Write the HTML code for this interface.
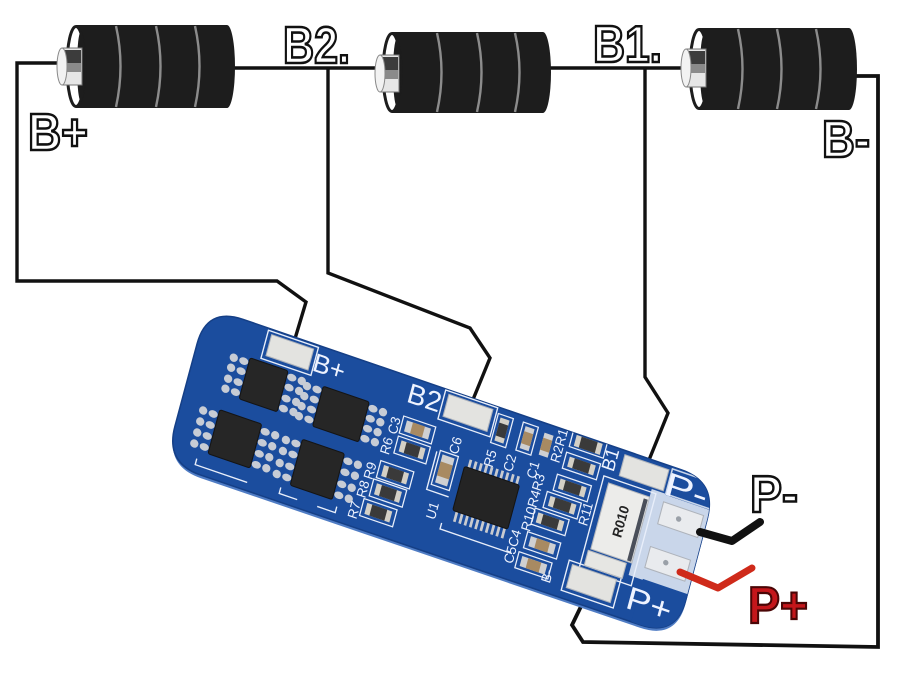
<!DOCTYPE html>
<html><head><meta charset="utf-8">
<style>
html,body{margin:0;padding:0;background:#fff;}
svg{display:block;}
.ol{font-family:"Liberation Sans",sans-serif;font-weight:bold;fill:#fff;stroke:#111;stroke-width:2.6;}
.sk{font-family:"Liberation Sans",sans-serif;fill:#eef3ff;}
</style></head>
<body>
<svg width="900" height="681" viewBox="0 0 900 681" xmlns="http://www.w3.org/2000/svg">
<defs>
<clipPath id="bc"><path d="M242.9,319.3 L681.1,469.7 Q717,482 707.3,518.7 L685.7,600.3 Q676,637 640,624.8 L201,475.2 Q165,463 174.9,426.3 L197.1,343.7 Q207,307 242.9,319.3 Z"/></clipPath>
</defs>
<rect width="900" height="681" fill="#fff"/>

<!-- wires -->
<g fill="none" stroke="#111" stroke-width="3.4" stroke-linejoin="miter">
<polyline points="60,63 17,63 17,281 277,281 306,302 294,342"/>
<polyline points="234,68 380,68"/>
<polyline points="328,68 328,273 470,328 490,358 472,402"/>
<polyline points="550,68 686,68"/>
<polyline points="645,68 645,377 668,413 649,460"/>
<polyline points="853,76 878,76 878,647 583,642 572,625 587,594" stroke-width="3.8"/>
</g>

<!-- battery 1 -->
<g>
<path d="M76,25 H227 A8,41.5 0 0 1 227,108 H76 Z" fill="#1d1d1d"/>
<g fill="none" stroke="#8c8c8c" stroke-width="2.4">
<path d="M116,26 Q125,66 116,107"/><path d="M156,26 Q165,66 156,107"/><path d="M195,26 Q204,66 195,107"/>
</g>
<ellipse cx="76" cy="66.5" rx="9" ry="40" fill="#fff" stroke="#1d1d1d" stroke-width="3"/>
<ellipse cx="81" cy="66.5" rx="4" ry="35" fill="#1d1d1d"/>
<rect x="62" y="48" width="20" height="37" fill="#e6e6e6" stroke="#777" stroke-width="1"/>
<rect x="65" y="50" width="16" height="13" fill="#3c3c3c"/>
<rect x="65" y="63" width="16" height="9" fill="#8a8a8a"/>
<ellipse cx="62" cy="66.5" rx="5" ry="18.5" fill="#f2f2f2" stroke="#888" stroke-width="1"/>
</g>

<!-- battery 2 -->
<g>
<path d="M392,32 H543 A8,40.5 0 0 1 543,113 H392 Z" fill="#1d1d1d"/>
<g fill="none" stroke="#8c8c8c" stroke-width="2.4">
<path d="M437,33 Q446,72 437,112"/><path d="M477,33 Q486,72 477,112"/><path d="M515,33 Q524,72 515,112"/>
</g>
<ellipse cx="392" cy="72.5" rx="9" ry="39" fill="#fff" stroke="#1d1d1d" stroke-width="3"/>
<ellipse cx="397" cy="72.5" rx="4" ry="34" fill="#1d1d1d"/>
<rect x="380" y="55" width="19" height="37" fill="#e6e6e6" stroke="#777" stroke-width="1"/>
<rect x="383" y="57" width="15" height="13" fill="#3c3c3c"/>
<rect x="383" y="70" width="15" height="9" fill="#8a8a8a"/>
<ellipse cx="380" cy="73.5" rx="5" ry="18.5" fill="#f2f2f2" stroke="#888" stroke-width="1"/>
</g>

<!-- battery 3 -->
<g>
<path d="M699,28 H849 A8,41 0 0 1 849,110 H699 Z" fill="#1d1d1d"/>
<g fill="none" stroke="#8c8c8c" stroke-width="2.4">
<path d="M738,29 Q747,69 738,109"/><path d="M777,29 Q786,69 777,109"/><path d="M816,29 Q825,69 816,109"/>
</g>
<ellipse cx="699" cy="69" rx="9" ry="39.5" fill="#fff" stroke="#1d1d1d" stroke-width="3"/>
<ellipse cx="704" cy="69" rx="4" ry="34" fill="#1d1d1d"/>
<rect x="686" y="49" width="20" height="38" fill="#e6e6e6" stroke="#777" stroke-width="1"/>
<rect x="689" y="51" width="16" height="13" fill="#3c3c3c"/>
<rect x="689" y="64" width="16" height="9" fill="#8a8a8a"/>
<ellipse cx="686" cy="68" rx="5" ry="19" fill="#f2f2f2" stroke="#888" stroke-width="1"/>
</g>

<!-- board -->
<path d="M242.9,322.3 L681.1,472.7 Q717,485 707.3,521.7 L685.7,603.3 Q676,640 640,627.8 L201,478.2 Q165,466 174.9,429.3 L197.1,346.7 Q207,310 242.9,322.3 Z" fill="#4f7cc4"/>
<path d="M242.9,319.3 L681.1,469.7 Q717,482 707.3,518.7 L685.7,600.3 Q676,637 640,624.8 L201,475.2 Q165,463 174.9,426.3 L197.1,343.7 Q207,307 242.9,319.3 Z" fill="#1b4d9e" stroke="#153f86" stroke-width="1.5"/>

<g clip-path="url(#bc)">
<g transform="matrix(1,0.343,-0.269,1,207,307)">
<!-- pale region at right end -->
<rect x="452" y="27" width="70" height="86" fill="#c9d6ea"/>
<rect x="466" y="0" width="56" height="28" fill="#1b4d9e"/>
<rect x="466" y="112" width="56" height="50" fill="#1b4d9e"/>
<rect x="466" y="2" width="50" height="25" fill="none" stroke="#c9d6ea" stroke-width="1.5"/>

<!-- silkscreen frames -->
<g fill="none" stroke="#e8eefa" stroke-width="1.3">
<rect x="62" y="2" width="50" height="28"/>
<rect x="239" y="1" width="52" height="29"/>
<rect x="405" y="30" width="52" height="92"/>
<rect x="394" y="118" width="52" height="30"/>
<polyline points="28,142 28,148 80,148"/>
<polyline points="112,142 112,148 130,148"/>
<polyline points="150,148 168,148 168,142"/>
<polyline points="246,60 246,98 268,98"/>
<polyline points="268,124 268,130 340,130"/>
</g>

<!-- pads -->
<g fill="#e3e3e0" stroke="#aeb3bb" stroke-width="1">
<rect x="66" y="5" width="42" height="21"/>
<rect x="243" y="4" width="44" height="22"/>
<rect x="419" y="4" width="44" height="21"/>
<rect x="398" y="121" width="44" height="23"/>
<rect x="466" y="35" width="40" height="22" fill="#e9ebee"/>
<rect x="465" y="80" width="40" height="21" fill="#e9ebee"/>
</g>
<circle cx="484" cy="46" r="2.6" fill="#9aa0a8"/>
<circle cx="483" cy="90" r="2.6" fill="#9aa0a8"/>

<!-- R010 shunt -->
<rect x="411" y="35" width="41" height="66" fill="#ececea" stroke="#b5b8bd" stroke-width="1"/>
<rect x="447" y="38" width="4" height="62" fill="#4a4f5a"/>
<rect x="409" y="103" width="38" height="15" fill="#e6e6e3" stroke="#b5b8bd" stroke-width="1"/>
<text transform="translate(436,82) rotate(-90)" font-family="Liberation Sans,sans-serif" font-size="13" font-weight="bold" fill="#222">R010</text>

<!-- MOSFET pins -->
<g fill="#c7ccd5">
<ellipse cx="47" cy="38" rx="4.5" ry="3.5"/><ellipse cx="47" cy="48" rx="4.5" ry="3.5"/><ellipse cx="47" cy="59" rx="4.5" ry="3.5"/><ellipse cx="47" cy="69" rx="4.5" ry="3.5"/>
<circle cx="37" cy="38" r="4"/><circle cx="37" cy="48" r="4"/><circle cx="37" cy="59" r="4"/><circle cx="37" cy="69" r="4"/>
<ellipse cx="95" cy="38" rx="4.5" ry="3.5"/><ellipse cx="95" cy="48" rx="4.5" ry="3.5"/><ellipse cx="95" cy="59" rx="4.5" ry="3.5"/><ellipse cx="95" cy="69" rx="4.5" ry="3.5"/>
<circle cx="105" cy="38" r="4"/><circle cx="105" cy="48" r="4"/><circle cx="105" cy="59" r="4"/><circle cx="105" cy="69" r="4"/>

<ellipse cx="32" cy="96" rx="4.5" ry="3.5"/><ellipse cx="32" cy="107" rx="4.5" ry="3.5"/><ellipse cx="32" cy="118" rx="4.5" ry="3.5"/><ellipse cx="32" cy="129" rx="4.5" ry="3.5"/>
<circle cx="22" cy="96" r="4"/><circle cx="22" cy="107" r="4"/><circle cx="22" cy="118" r="4"/><circle cx="22" cy="129" r="4"/>
<ellipse cx="84" cy="96" rx="4.5" ry="3.5"/><ellipse cx="84" cy="107" rx="4.5" ry="3.5"/><ellipse cx="84" cy="118" rx="4.5" ry="3.5"/><ellipse cx="84" cy="129" rx="4.5" ry="3.5"/>
<circle cx="94" cy="96" r="4"/><circle cx="94" cy="107" r="4"/><circle cx="94" cy="118" r="4"/><circle cx="94" cy="129" r="4"/>

<ellipse cx="121" cy="41" rx="4.5" ry="3.5"/><ellipse cx="121" cy="51" rx="4.5" ry="3.5"/><ellipse cx="121" cy="61" rx="4.5" ry="3.5"/><ellipse cx="121" cy="71" rx="4.5" ry="3.5"/>
<circle cx="111" cy="41" r="4"/><circle cx="111" cy="51" r="4"/><circle cx="111" cy="61" r="4"/><circle cx="111" cy="71" r="4"/>
<ellipse cx="177" cy="41" rx="4.5" ry="3.5"/><ellipse cx="177" cy="51" rx="4.5" ry="3.5"/><ellipse cx="177" cy="61" rx="4.5" ry="3.5"/><ellipse cx="177" cy="71" rx="4.5" ry="3.5"/>
<circle cx="187" cy="41" r="4"/><circle cx="187" cy="51" r="4"/><circle cx="187" cy="61" r="4"/><circle cx="187" cy="71" r="4"/>

<ellipse cx="115" cy="97" rx="4.5" ry="3.5"/><ellipse cx="115" cy="108" rx="4.5" ry="3.5"/><ellipse cx="115" cy="120" rx="4.5" ry="3.5"/><ellipse cx="115" cy="131" rx="4.5" ry="3.5"/>
<circle cx="105" cy="97" r="4"/><circle cx="105" cy="108" r="4"/><circle cx="105" cy="120" r="4"/><circle cx="105" cy="131" r="4"/>
<ellipse cx="167" cy="97" rx="4.5" ry="3.5"/><ellipse cx="167" cy="108" rx="4.5" ry="3.5"/><ellipse cx="167" cy="120" rx="4.5" ry="3.5"/><ellipse cx="167" cy="131" rx="4.5" ry="3.5"/>
<circle cx="177" cy="97" r="4"/><circle cx="177" cy="108" r="4"/><circle cx="177" cy="120" r="4"/><circle cx="177" cy="131" r="4"/>
</g>

<!-- MOSFET bodies -->
<g fill="#262626" stroke="#141414" stroke-width="1">
<rect x="52" y="33" width="38" height="41" rx="2"/>
<rect x="37" y="90" width="42" height="44" rx="2"/>
<rect x="126" y="36" width="46" height="40" rx="2"/>
<rect x="120" y="91" width="42" height="46" rx="2"/>
</g>

<!-- IC pins -->
<g fill="#c9cbcf">
<rect x="278" y="57" width="2.6" height="8"/><rect x="283.3" y="57" width="2.6" height="8"/><rect x="288.6" y="57" width="2.6" height="8"/><rect x="293.9" y="57" width="2.6" height="8"/><rect x="299.2" y="57" width="2.6" height="8"/><rect x="304.5" y="57" width="2.6" height="8"/><rect x="309.8" y="57" width="2.6" height="8"/><rect x="315.1" y="57" width="2.6" height="8"/><rect x="320.4" y="57" width="2.6" height="8"/><rect x="325.7" y="57" width="2.6" height="8"/>
<rect x="278" y="109" width="2.6" height="10"/><rect x="283.3" y="109" width="2.6" height="10"/><rect x="288.6" y="109" width="2.6" height="10"/><rect x="293.9" y="109" width="2.6" height="10"/><rect x="299.2" y="109" width="2.6" height="10"/><rect x="304.5" y="109" width="2.6" height="10"/><rect x="309.8" y="109" width="2.6" height="10"/><rect x="315.1" y="109" width="2.6" height="10"/><rect x="320.4" y="109" width="2.6" height="10"/><rect x="325.7" y="109" width="2.6" height="10"/>
</g>
<rect x="275" y="65" width="55" height="44" rx="2" fill="#242424" stroke="#141414" stroke-width="1"/>

<!-- SMD resistors (horizontal) -->
<g>
<g fill="none" stroke="#e8eefa" stroke-width="1.2">
<rect x="207" y="58" width="32" height="17"/>
<rect x="197" y="86" width="33" height="17"/>
<rect x="195" y="105" width="33" height="17"/>
<rect x="191" y="126" width="33" height="17"/>
<rect x="366" y="-1" width="34" height="15"/>
<rect x="365" y="20" width="34" height="16"/>
<rect x="362" y="43" width="34" height="16"/>
<rect x="357" y="62" width="34" height="16"/>
<rect x="350" y="81" width="34" height="16"/>
<rect x="207" y="38" width="32" height="17"/>
<rect x="349" y="105" width="33" height="16"/>
<rect x="346" y="126" width="33" height="16"/>
<rect x="249" y="58" width="18" height="34"/>
<rect x="293" y="6" width="15" height="29"/>
<rect x="318" y="6" width="15" height="28"/>
</g>
<g fill="#d4d0c6">
<rect x="211" y="61" width="24" height="11"/>
<rect x="201" y="89" width="25" height="11"/>
<rect x="199" y="108" width="25" height="11"/>
<rect x="195" y="129" width="25" height="11"/>
<rect x="370" y="1" width="26" height="11"/>
<rect x="369" y="23" width="26" height="10"/>
<rect x="366" y="46" width="26" height="10"/>
<rect x="361" y="65" width="26" height="10"/>
<rect x="354" y="84" width="26" height="10"/>
<rect x="296" y="9" width="9" height="23"/>
</g>
<g fill="#3a3a3a">
<rect x="216" y="61" width="14" height="11"/>
<rect x="206" y="89" width="15" height="11"/>
<rect x="204" y="108" width="15" height="11"/>
<rect x="200" y="129" width="15" height="11"/>
<rect x="375" y="1" width="16" height="11"/>
<rect x="374" y="23" width="16" height="10"/>
<rect x="371" y="46" width="16" height="10"/>
<rect x="366" y="65" width="16" height="10"/>
<rect x="359" y="84" width="16" height="10"/>
<rect x="296" y="14" width="9" height="13"/>
</g>
<!-- caps -->
<g fill="#cfd0d2">
<rect x="211" y="41" width="24" height="11"/>
<rect x="353" y="108" width="25" height="10"/>
<rect x="350" y="129" width="25" height="10"/>
<rect x="252" y="61" width="12" height="28"/>
<rect x="321" y="9" width="9" height="22"/>
<rect x="340" y="9" width="9" height="22"/>
</g>
<g fill="#a88a62">
<rect x="217" y="41" width="12" height="11"/>
<rect x="359" y="108" width="13" height="10"/>
<rect x="356" y="129" width="13" height="10"/>
<rect x="252" y="68" width="12" height="14"/>
<rect x="321" y="14" width="9" height="12"/>
<rect x="340" y="14" width="9" height="12"/>
</g>
</g>

<!-- board labels -->
<text x="111" y="25" class="sk" font-size="25">B+</text>
<text x="205" y="24" class="sk" font-size="27">B2</text>
<text x="463" y="28" class="sk" font-size="32" textLength="42" lengthAdjust="spacingAndGlyphs">P-</text>
<text x="456" y="144" class="sk" font-size="31" textLength="44" lengthAdjust="spacingAndGlyphs">P+</text>
<g class="sk" font-size="13">
<text transform="translate(413,24) rotate(-90)" font-size="18">B1</text>
<text transform="translate(205,58) rotate(-90)">C3</text>
<text transform="translate(203,79) rotate(-90)">R6</text>
<text transform="translate(194,107) rotate(-90)">R9</text>
<text transform="translate(192,126) rotate(-90)">R8</text>
<text transform="translate(189,148) rotate(-90)">R7</text>
<text transform="translate(266,57) rotate(-90)">C6</text>
<text transform="translate(261,124) rotate(-90)">U1</text>
<text transform="translate(301,58) rotate(-90)">R5</text>
<text transform="translate(320,56) rotate(-90)">C2</text>
<text transform="translate(343,55) rotate(-90)">C1</text>
<text transform="translate(361,33) rotate(-90)">R2R1</text>
<text transform="translate(351,105) rotate(-90)">R10R4R3</text>
<text transform="translate(343,140) rotate(-90)">C5C4</text>
<text transform="translate(402,82) rotate(-90)">R11</text>
<text transform="translate(382,146) rotate(-90)">B-</text>
</g>
</g>
</g>

<!-- P- / P+ leads -->
<polyline points="700,532 732,541 760,522" fill="none" stroke="#111" stroke-width="8" stroke-linecap="round" stroke-linejoin="round"/>
<polyline points="680,572 718,588 752,568" fill="none" stroke="#cf2a1a" stroke-width="7" stroke-linecap="round" stroke-linejoin="round"/>

<!-- outline labels -->
<text x="28" y="150" class="ol" font-size="52" textLength="60" lengthAdjust="spacingAndGlyphs">B+</text>
<text x="283" y="63" class="ol" font-size="52" textLength="67" lengthAdjust="spacingAndGlyphs">B2.</text>
<text x="593" y="62" class="ol" font-size="52" textLength="69" lengthAdjust="spacingAndGlyphs">B1.</text>
<text x="822" y="157" class="ol" font-size="52" textLength="48" lengthAdjust="spacingAndGlyphs">B-</text>
<text x="750" y="512" class="ol" font-size="52" textLength="48" lengthAdjust="spacingAndGlyphs">P-</text>
<text x="748" y="623" class="ol" font-size="52" textLength="60" lengthAdjust="spacingAndGlyphs" style="fill:#c4161b;stroke:#4a0606;stroke-width:2.2">P+</text>
</svg>
</body></html>
